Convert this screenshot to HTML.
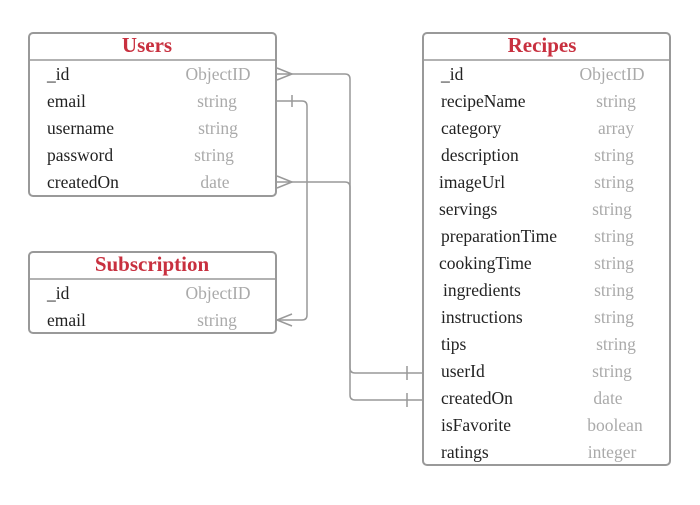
<!DOCTYPE html>
<html><head><style>
body{margin:0;background:#fff;}
svg text{font-family:"Liberation Serif",serif;}
</style></head><body>
<svg width="700" height="500" xmlns="http://www.w3.org/2000/svg">
<g fill="none" stroke="#999" stroke-width="1.5">
<path d="M277 74 H345 Q350 74 350 79 V368 Q350 373 355 373 H423"/>
<path d="M277 182 H345 Q350 182 350 187 V395 Q350 400 355 400 H423"/>
<path d="M277 101 H302 Q307 101 307 106 V315 Q307 320 302 320 H277"/>
<path d="M277 68 L292 74 L277 80"/>
<path d="M277 176 L292 182 L277 188"/>
<path d="M292 314 L277 320 L292 326"/>
<path d="M292 95 V107"/>
<path d="M407 366 V380"/>
<path d="M407 393 V407"/>
</g>
<g fill="#fff" stroke="#999" stroke-width="2">
<rect x="29" y="33" width="247" height="163" rx="4"/>
<rect x="29" y="252" width="247" height="81" rx="4"/>
<rect x="423" y="33" width="247" height="432" rx="4"/>
</g>
<g stroke="#999" stroke-width="1.5">
<line x1="29" y1="60" x2="276" y2="60"/>
<line x1="29" y1="279" x2="276" y2="279"/>
<line x1="423" y1="60" x2="670" y2="60"/>
</g>
<g font-size="21" font-weight="bold" fill="#c8303f" text-anchor="middle">
<text x="147" y="52">Users</text>
<text x="152" y="271">Subscription</text>
<text x="542" y="52">Recipes</text>
</g>
<g font-size="17.5" fill="#222">
<text x="47" y="80">_id</text><text x="47" y="107">email</text><text x="47" y="134">username</text><text x="47" y="161">password</text><text x="47" y="188">createdOn</text>
<text x="47" y="299">_id</text><text x="47" y="326">email</text>
<text x="441" y="80">_id</text><text x="441" y="107">recipeName</text><text x="441" y="134">category</text><text x="441" y="161">description</text><text x="439" y="188">imageUrl</text><text x="439" y="215">servings</text><text x="441" y="242">preparationTime</text><text x="439" y="269">cookingTime</text><text x="443" y="296">ingredients</text><text x="441" y="323">instructions</text><text x="441" y="350">tips</text><text x="441" y="377">userId</text><text x="441" y="404">createdOn</text><text x="441" y="431">isFavorite</text><text x="441" y="458">ratings</text>
</g>
<g font-size="17.5" fill="#aaa" text-anchor="middle">
<text x="218" y="80">ObjectID</text><text x="217" y="107">string</text><text x="218" y="134">string</text><text x="214" y="161">string</text><text x="215" y="188">date</text>
<text x="218" y="299">ObjectID</text><text x="217" y="326">string</text>
<text x="612" y="80">ObjectID</text><text x="616" y="107">string</text><text x="616" y="134">array</text><text x="614" y="161">string</text><text x="614" y="188">string</text><text x="612" y="215">string</text><text x="614" y="242">string</text><text x="614" y="269">string</text><text x="614" y="296">string</text><text x="614" y="323">string</text><text x="616" y="350">string</text><text x="612" y="377">string</text><text x="608" y="404">date</text><text x="615" y="431">boolean</text><text x="612" y="458">integer</text>
</g>
</svg>
</body></html>
